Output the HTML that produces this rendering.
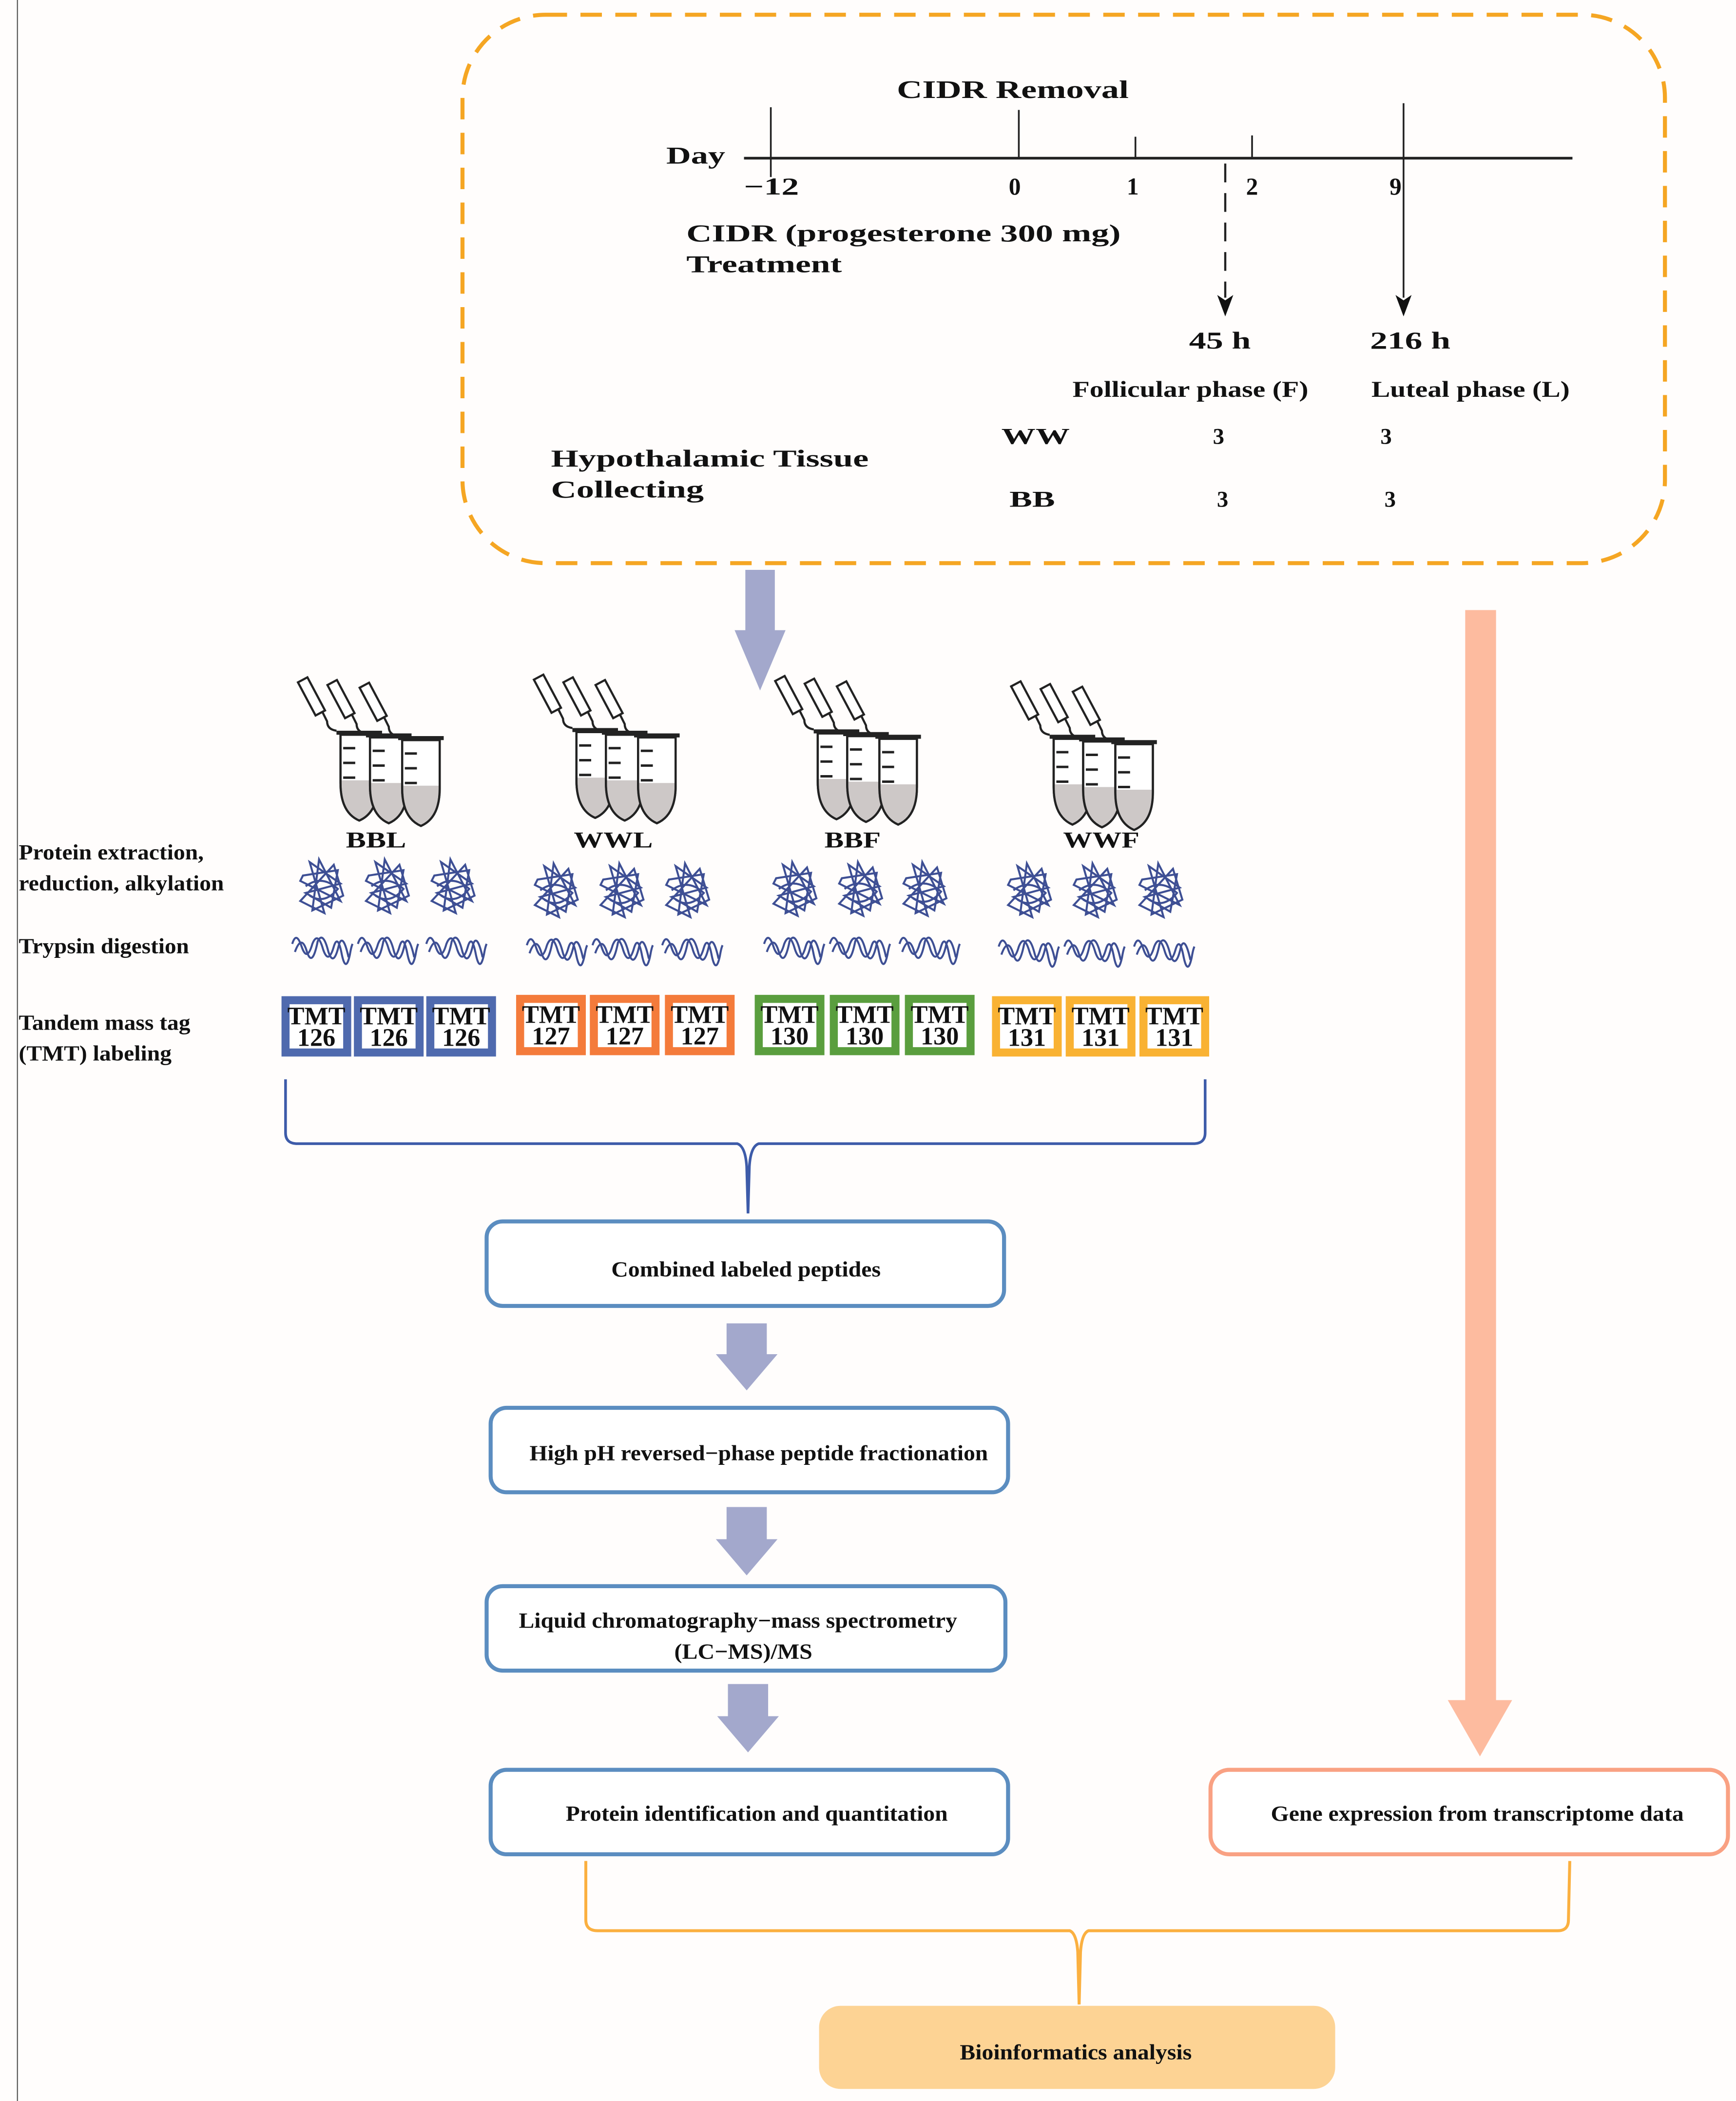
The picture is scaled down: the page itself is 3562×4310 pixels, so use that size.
<!DOCTYPE html>
<html><head><meta charset="utf-8"><style>
html,body{margin:0;padding:0;background:#fffdfc;}
svg{display:block;}
text{font-family:"Liberation Serif",serif;font-weight:bold;fill:#111;}
</style></head><body>
<svg width="3562" height="4310" viewBox="0 0 1295 1567" preserveAspectRatio="none" xmlns="http://www.w3.org/2000/svg">
<defs>
<g id="tube">
 <path d="M0 0 L28 0 L28 36 Q28 58 14 64 Q0 58 0 36 Z" fill="#fff" stroke="#222" stroke-width="1.6"/>
 <path d="M0.8 34 L27.2 34 L27.2 36 Q27.2 57 14 63 Q0.8 57 0.8 36 Z" fill="#cdc8c7"/>
 <path d="M0 0 L28 0 L28 36 Q28 58 14 64 Q0 58 0 36 Z" fill="none" stroke="#222" stroke-width="1.6"/>
 <rect x="-3" y="-3" width="34" height="3" fill="#222"/>
 <line x1="2" y1="10" x2="11" y2="10" stroke="#222" stroke-width="1.8"/>
 <line x1="2" y1="21" x2="11" y2="21" stroke="#222" stroke-width="1.8"/>
 <line x1="2" y1="32" x2="11" y2="32" stroke="#222" stroke-width="1.8"/>
 <path d="M-3 -3 Q-10 -4 -10 -10 L-14 -18" fill="none" stroke="#222" stroke-width="1.6"/>
 <rect x="-20" y="-44" width="8" height="28" transform="rotate(-28 -16 -18)" fill="#fff" stroke="#222" stroke-width="1.6"/>
</g>
<g id="tubes">
 <use href="#tube" x="0" y="0"/>
 <use href="#tube" x="22" y="2"/>
 <use href="#tube" x="46" y="4"/>
</g>
<g id="tangle" fill="none" stroke="#3e4f94" stroke-width="1.5">
 <path d="M-14 -8 L12 -12 L7 16 L-12 5 L14 -2 L-9 -18 L2 20 L-16 11 L9 -16 L16 7 L-7 18 L-2 -20 L14 11 L-16 -4 Z"/>
 <path d="M-12 0 Q0 -9 12 2 Q2 14 -9 7"/>
</g>
<g id="squig" fill="none" stroke="#3e4f94" stroke-width="1.5">
 <path d="M-22 -2 Q-19 -12 -15 0 Q-11 12 -7 -2 Q-3 -12 1 2 Q5 14 9 0 Q12 -10 15 6 Q18 20 21 6 Q22 0 23 -2"/>
 <path d="M-20 4 Q-15 -10 -11 4 Q-7 16 -3 -4 Q1 -12 5 4 Q9 16 13 -2 Q16 -10 20 8"/>
</g>
</defs>

<rect width="1295" height="1567" fill="#fffdfc"/>
<line x1="13" y1="0" x2="13" y2="1567" stroke="#555" stroke-width="0.8"/>

<rect x="345" y="11" width="897" height="409" rx="62" fill="none" stroke="#f5a623" stroke-width="3" stroke-dasharray="16 10"/>

<line x1="555" y1="118" x2="1173" y2="118" stroke="#222" stroke-width="2"/>
<line x1="575" y1="80" x2="575" y2="132" stroke="#222" stroke-width="1.3"/>
<line x1="760" y1="82" x2="760" y2="118" stroke="#222" stroke-width="1.3"/>
<line x1="847" y1="102" x2="847" y2="118" stroke="#222" stroke-width="1.3"/>
<line x1="934" y1="101" x2="934" y2="118" stroke="#222" stroke-width="1.3"/>
<line x1="1047" y1="77" x2="1047" y2="222" stroke="#222" stroke-width="1.3"/>
<line x1="914" y1="122" x2="914" y2="222" stroke="#222" stroke-width="1.6" stroke-dasharray="14 8"/>
<path d="M908 220 L914 236 L920 220 L914 224 Z" fill="#111"/>
<path d="M1041 220 L1047 236 L1053 220 L1047 224 Z" fill="#111"/>

<g lengthAdjust="spacingAndGlyphs">
<text x="669" y="73" font-size="19" textLength="173" lengthAdjust="spacingAndGlyphs">CIDR Removal</text>
<text x="497" y="122" font-size="18" textLength="44" lengthAdjust="spacingAndGlyphs">Day</text>
<text x="555" y="145" font-size="18" textLength="41" lengthAdjust="spacingAndGlyphs">−12</text>
<text x="757" y="145" font-size="18" text-anchor="middle">0</text>
<text x="845" y="145" font-size="18" text-anchor="middle">1</text>
<text x="934" y="145" font-size="18" text-anchor="middle">2</text>
<text x="1041" y="145" font-size="18" text-anchor="middle">9</text>
<text x="512" y="180" font-size="18" textLength="324" lengthAdjust="spacingAndGlyphs">CIDR (progesterone 300 mg)</text>
<text x="512" y="203" font-size="18" textLength="116" lengthAdjust="spacingAndGlyphs">Treatment</text>
<text x="887" y="260" font-size="18" textLength="46" lengthAdjust="spacingAndGlyphs">45 h</text>
<text x="1022" y="260" font-size="18" textLength="60" lengthAdjust="spacingAndGlyphs">216 h</text>
<text x="800" y="296" font-size="17" textLength="176" lengthAdjust="spacingAndGlyphs">Follicular phase (F)</text>
<text x="1023" y="296" font-size="17" textLength="148" lengthAdjust="spacingAndGlyphs">Luteal phase (L)</text>
<text x="747" y="331" font-size="17" textLength="51" lengthAdjust="spacingAndGlyphs">WW</text>
<text x="909" y="331" font-size="17" text-anchor="middle">3</text>
<text x="1034" y="331" font-size="17" text-anchor="middle">3</text>
<text x="411" y="348" font-size="18" textLength="237" lengthAdjust="spacingAndGlyphs">Hypothalamic Tissue</text>
<text x="411" y="371" font-size="18" textLength="114" lengthAdjust="spacingAndGlyphs">Collecting</text>
<text x="753" y="378" font-size="17" textLength="34" lengthAdjust="spacingAndGlyphs">BB</text>
<text x="912" y="378" font-size="17" text-anchor="middle">3</text>
<text x="1037" y="378" font-size="17" text-anchor="middle">3</text>
</g>

<path d="M556 425 L578 425 L578 470 L586 470 L567 515 L548 470 L556 470 Z" fill="#a3a8cc"/>
<path d="M1093 455 L1116 455 L1116 1268 L1128 1268 L1104 1310 L1080 1268 L1093 1268 Z" fill="#fdbb9f"/>

<use href="#tubes" x="254" y="548"/>
<use href="#tubes" x="430" y="546"/>
<use href="#tubes" x="610" y="547"/>
<use href="#tubes" x="786" y="551"/>

<text x="258" y="632" font-size="17" textLength="45" lengthAdjust="spacingAndGlyphs">BBL</text>
<text x="428" y="632" font-size="17" textLength="59" lengthAdjust="spacingAndGlyphs">WWL</text>
<text x="615" y="632" font-size="17" textLength="42" lengthAdjust="spacingAndGlyphs">BBF</text>
<text x="793" y="632" font-size="17" textLength="57" lengthAdjust="spacingAndGlyphs">WWF</text>

<text x="14" y="641" font-size="16" textLength="138" lengthAdjust="spacingAndGlyphs">Protein extraction,</text>
<text x="14" y="664" font-size="16" textLength="153" lengthAdjust="spacingAndGlyphs">reduction, alkylation</text>
<text x="14" y="711" font-size="16" textLength="127" lengthAdjust="spacingAndGlyphs">Trypsin digestion</text>
<text x="14" y="768" font-size="16" textLength="128" lengthAdjust="spacingAndGlyphs">Tandem mass tag</text>
<text x="14" y="791" font-size="16" textLength="114" lengthAdjust="spacingAndGlyphs">(TMT) labeling</text>

<use href="#tangle" x="240" y="661"/><use href="#tangle" x="289" y="661"/><use href="#tangle" x="338" y="661"/>
<use href="#tangle" x="415" y="664"/><use href="#tangle" x="464" y="664"/><use href="#tangle" x="513" y="664"/>
<use href="#tangle" x="593" y="663"/><use href="#tangle" x="642" y="663"/><use href="#tangle" x="690" y="663"/>
<use href="#tangle" x="768" y="664"/><use href="#tangle" x="817" y="664"/><use href="#tangle" x="866" y="664"/>
<use href="#squig" x="240" y="706"/><use href="#squig" x="289" y="706"/><use href="#squig" x="340" y="706"/>
<use href="#squig" x="415" y="707"/><use href="#squig" x="464" y="707"/><use href="#squig" x="516" y="707"/>
<use href="#squig" x="592" y="706"/><use href="#squig" x="641" y="706"/><use href="#squig" x="693" y="706"/>
<use href="#squig" x="767" y="708"/><use href="#squig" x="816" y="708"/><use href="#squig" x="868" y="708"/>

<g font-size="19" text-anchor="middle">
<g fill="#4f6aae">
<rect x="210" y="743" width="52" height="45"/><rect x="264" y="743" width="52" height="45"/><rect x="318" y="743" width="52" height="45"/>
</g>
<g fill="#f47b3b">
<rect x="385" y="742" width="52" height="45"/><rect x="440" y="742" width="52" height="45"/><rect x="496" y="742" width="52" height="45"/>
</g>
<g fill="#5a9e3e">
<rect x="563" y="742" width="52" height="45"/><rect x="619" y="742" width="52" height="45"/><rect x="675" y="742" width="52" height="45"/>
</g>
<g fill="#f9b233">
<rect x="740" y="743" width="52" height="45"/><rect x="795" y="743" width="52" height="45"/><rect x="850" y="743" width="52" height="45"/>
</g>
<g fill="#fff">
<rect x="216" y="749" width="40" height="33"/><rect x="270" y="749" width="40" height="33"/><rect x="324" y="749" width="40" height="33"/>
<rect x="391" y="748" width="40" height="33"/><rect x="446" y="748" width="40" height="33"/><rect x="502" y="748" width="40" height="33"/>
<rect x="569" y="748" width="40" height="33"/><rect x="625" y="748" width="40" height="33"/><rect x="681" y="748" width="40" height="33"/>
<rect x="746" y="749" width="40" height="33"/><rect x="801" y="749" width="40" height="33"/><rect x="856" y="749" width="40" height="33"/>
</g>
<text x="236" y="764">TMT</text><text x="236" y="780">126</text>
<text x="290" y="764">TMT</text><text x="290" y="780">126</text>
<text x="344" y="764">TMT</text><text x="344" y="780">126</text>
<text x="411" y="763">TMT</text><text x="411" y="779">127</text>
<text x="466" y="763">TMT</text><text x="466" y="779">127</text>
<text x="522" y="763">TMT</text><text x="522" y="779">127</text>
<text x="589" y="763">TMT</text><text x="589" y="779">130</text>
<text x="645" y="763">TMT</text><text x="645" y="779">130</text>
<text x="701" y="763">TMT</text><text x="701" y="779">130</text>
<text x="766" y="764">TMT</text><text x="766" y="780">131</text>
<text x="821" y="764">TMT</text><text x="821" y="780">131</text>
<text x="876" y="764">TMT</text><text x="876" y="780">131</text>
</g>

<path d="M213 805 L213 845 Q213 853 222 853 L550 853 Q556 855 557 870 L558 905 L559 870 Q560 855 566 853 L890 853 Q899 853 899 845 L899 805" fill="none" stroke="#3d5ba9" stroke-width="2"/>

<g fill="#fff" stroke="#5b8dc0" stroke-width="3">
<rect x="363" y="911" width="386" height="63" rx="12"/>
<rect x="366" y="1050" width="386" height="63" rx="12"/>
<rect x="363" y="1183" width="387" height="63" rx="12"/>
<rect x="366" y="1320" width="386" height="63" rx="12"/>
</g>
<rect x="903" y="1320" width="386" height="63" rx="14" fill="#fff" stroke="#f9a183" stroke-width="3"/>
<g font-size="16">
<text x="456" y="952" textLength="201" lengthAdjust="spacingAndGlyphs">Combined labeled peptides</text>
<text x="395" y="1089" textLength="342" lengthAdjust="spacingAndGlyphs">High pH reversed−phase peptide fractionation</text>
<text x="387" y="1214" textLength="327" lengthAdjust="spacingAndGlyphs">Liquid chromatography−mass spectrometry</text>
<text x="503" y="1237" textLength="103" lengthAdjust="spacingAndGlyphs">(LC−MS)/MS</text>
<text x="422" y="1358" textLength="285" lengthAdjust="spacingAndGlyphs">Protein identification and quantitation</text>
<text x="948" y="1358" textLength="308" lengthAdjust="spacingAndGlyphs">Gene expression from transcriptome data</text>
</g>

<g fill="#a3a8cc">
<path d="M542 987 L572 987 L572 1010 L580 1010 L557 1037 L534 1010 L542 1010 Z"/>
<path d="M542 1124 L572 1124 L572 1148 L580 1148 L557 1175 L534 1148 L542 1148 Z"/>
<path d="M543 1256 L573 1256 L573 1280 L581 1280 L558 1307 L535 1280 L543 1280 Z"/>
</g>

<path d="M437 1388 L437 1432 Q437 1440 446 1440 L798 1440 Q803 1442 804 1456 L805 1495 L806 1456 Q807 1442 812 1440 L1162 1440 Q1170 1440 1170 1432 L1171 1388" fill="none" stroke="#fbb040" stroke-width="2.2"/>

<rect x="611" y="1496" width="385" height="62" rx="16" fill="#fdd394"/>
<text x="716" y="1536" font-size="16" textLength="173" lengthAdjust="spacingAndGlyphs">Bioinformatics analysis</text>
</svg>
</body></html>
